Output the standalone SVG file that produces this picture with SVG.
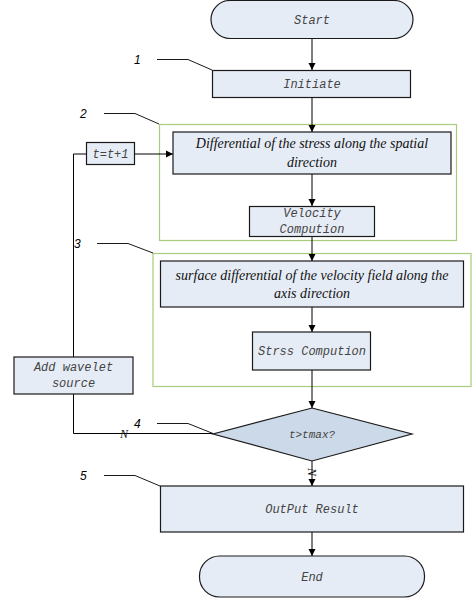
<svg xmlns="http://www.w3.org/2000/svg" width="473" height="598" viewBox="0 0 473 598">
<defs>
<marker id="arr" markerWidth="8" markerHeight="8" refX="7" refY="4" orient="auto" markerUnits="userSpaceOnUse">
<path d="M0,0.5 L7,4 L0,7.5 Z" fill="#000"/>
</marker>
<style>
.box{fill:#e6ecf6;stroke:#1a1a1a;stroke-width:1.2}
.dia{fill:#ccd9e8;stroke:#1a1a1a;stroke-width:1.2}
.grp{fill:none;stroke:#a9cb7c;stroke-width:1.2}
.mono{font-family:"Liberation Mono","DejaVu Sans Mono",monospace;font-style:italic;font-size:12px;fill:#444;text-anchor:middle}
.serif{font-family:"Liberation Serif","Times New Roman",serif;font-style:italic;font-size:14px;fill:#111;text-anchor:middle}
.num{font-family:"Liberation Sans",Arial,sans-serif;font-style:italic;font-size:12px;fill:#000}
.ln{fill:none;stroke:#000;stroke-width:1}
.ld{fill:none;stroke:#000;stroke-width:0.9}
</style>
</defs>
<g id="groups">
<rect class="grp" x="159.5" y="124.5" width="297" height="116"/>
<rect class="grp" x="153" y="253.5" width="318" height="133"/>
</g>
<g id="connectors">
<line class="ln" x1="312" y1="38" x2="312" y2="70" marker-end="url(#arr)"/>
<line class="ln" x1="312" y1="97" x2="312" y2="132" marker-end="url(#arr)"/>
<line class="ln" x1="312" y1="174" x2="312" y2="206" marker-end="url(#arr)"/>
<line class="ln" x1="312" y1="236" x2="312" y2="261" marker-end="url(#arr)"/>
<line class="ln" x1="312" y1="307" x2="312" y2="332" marker-end="url(#arr)"/>
<line class="ln" x1="312" y1="370" x2="312" y2="408" marker-end="url(#arr)"/>
<line class="ln" x1="312" y1="461" x2="312" y2="486" marker-end="url(#arr)"/>
<line class="ln" x1="312" y1="532" x2="312" y2="556" marker-end="url(#arr)"/>
<line class="ln" x1="135" y1="154" x2="173" y2="154" marker-end="url(#arr)"/>
<polyline class="ln" points="86,154 73.5,154 73.5,357"/>
<polyline class="ln" points="213,433.5 73.5,433.5 73.5,394"/>
<text class="serif" x="124" y="438" style="font-size:12px">N</text>
<text class="serif" transform="translate(312,472) rotate(90)" x="0" y="4" style="font-size:12px">N</text>
</g>
<g id="leaders">
<polyline class="ld" points="157,59.5 188,59.5 212,70"/>
<text class="num" x="134" y="64">1</text>
<polyline class="ld" points="104,113.5 135,113.5 159,124"/>
<text class="num" x="80" y="118">2</text>
<polyline class="ld" points="97,243.5 128,243.5 153,253"/>
<text class="num" x="74" y="248">3</text>
<polyline class="ld" points="157,423.5 188,423.5 213,433.5"/>
<text class="num" x="134" y="428">4</text>
<polyline class="ld" points="104,475.5 135,475.5 160,486"/>
<text class="num" x="80" y="480">5</text>
</g>
<g id="start">
<rect class="box" x="211" y="0.5" width="202" height="38" rx="19" ry="19"/>
<text class="mono" x="312" y="24">Start</text>
</g>
<g id="initiate">
<rect class="box" x="212.5" y="70.5" width="198" height="27"/>
<text class="mono" x="312" y="88">Initiate</text>
</g>
<g id="tinc">
<rect class="box" x="86.5" y="142.5" width="48" height="22"/>
<text class="mono" x="110.5" y="158">t=t+1</text>
</g>
<g id="diffstress">
<rect class="box" x="173" y="132" width="278" height="42"/>
<text class="serif" x="312" y="148">Differential of the stress along the spatial</text>
<text class="serif" x="312" y="167">direction</text>
</g>
<g id="velocity">
<rect class="box" x="249.5" y="206.5" width="125" height="30"/>
<text class="mono" x="312" y="217">Velocity</text>
<text class="mono" x="312" y="233">Compution</text>
</g>
<g id="surface">
<rect class="box" x="160.5" y="261" width="303" height="46"/>
<text class="serif" x="312" y="280">surface differential of the velocity field along the</text>
<text class="serif" x="312" y="298">axis direction</text>
</g>
<g id="stress">
<rect class="box" x="252.5" y="332" width="118" height="38"/>
<text class="mono" x="312" y="355">Strss Compution</text>
</g>
<g id="wavelet">
<rect class="box" x="14" y="357" width="119" height="37"/>
<text class="mono" x="73.5" y="371">Add wavelet</text>
<text class="mono" x="73.5" y="387">source</text>
</g>
<g id="decision">
<polygon class="dia" points="312,408 412,434 312,461 213,434"/>
<text class="mono" x="312" y="438" style="font-size:11px">t&gt;tmax?</text>
</g>
<g id="output">
<rect class="box" x="160.5" y="486" width="303" height="46"/>
<text class="mono" x="312" y="513">OutPut Result</text>
</g>
<g id="end">
<rect class="box" x="199.5" y="556" width="225" height="41" rx="20" ry="20"/>
<text class="mono" x="312" y="581">End</text>
</g>
</svg>
